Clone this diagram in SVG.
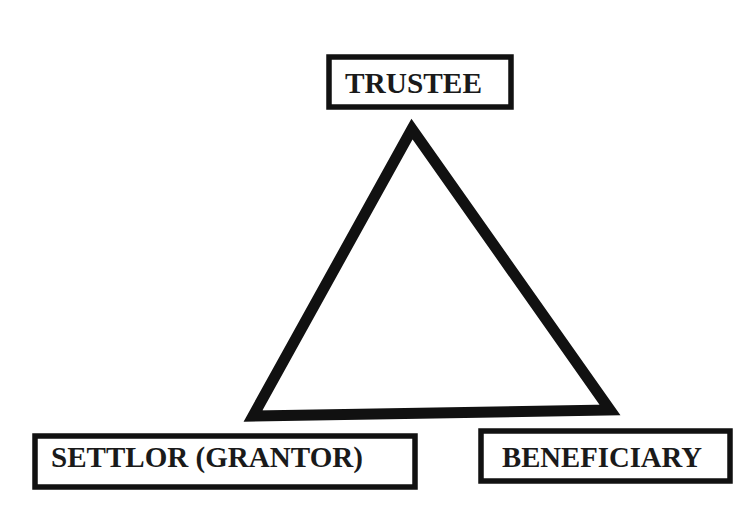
<svg xmlns="http://www.w3.org/2000/svg" width="739" height="506" viewBox="0 0 739 506">
<style>
.box{fill:#fff;stroke:#111;stroke-width:5.5}
.lbl{font-family:"Liberation Serif","Times New Roman",serif;font-weight:bold;font-size:29px;fill:#1a1a1a}
.edge{fill:none;stroke:#111;stroke-width:11;stroke-linejoin:miter}
</style>
<rect width="739" height="506" fill="#fff"/>
<g id="connectors">
<polygon class="edge" points="412,129 253,416 610,410"/>
</g>
<g id="trustee">
<rect class="box" x="329" y="57" width="182" height="50"/>
<text class="lbl" x="345" y="93" textLength="137" lengthAdjust="spacingAndGlyphs">TRUSTEE</text>
</g>
<g id="settlor">
<rect class="box" x="35" y="436" width="380" height="51"/>
<text class="lbl" x="51" y="467" textLength="312" lengthAdjust="spacingAndGlyphs">SETTLOR (GRANTOR)</text>
</g>
<g id="beneficiary">
<rect class="box" x="481" y="431" width="249" height="50"/>
<text class="lbl" x="502" y="467" textLength="200" lengthAdjust="spacingAndGlyphs">BENEFICIARY</text>
</g>
</svg>
